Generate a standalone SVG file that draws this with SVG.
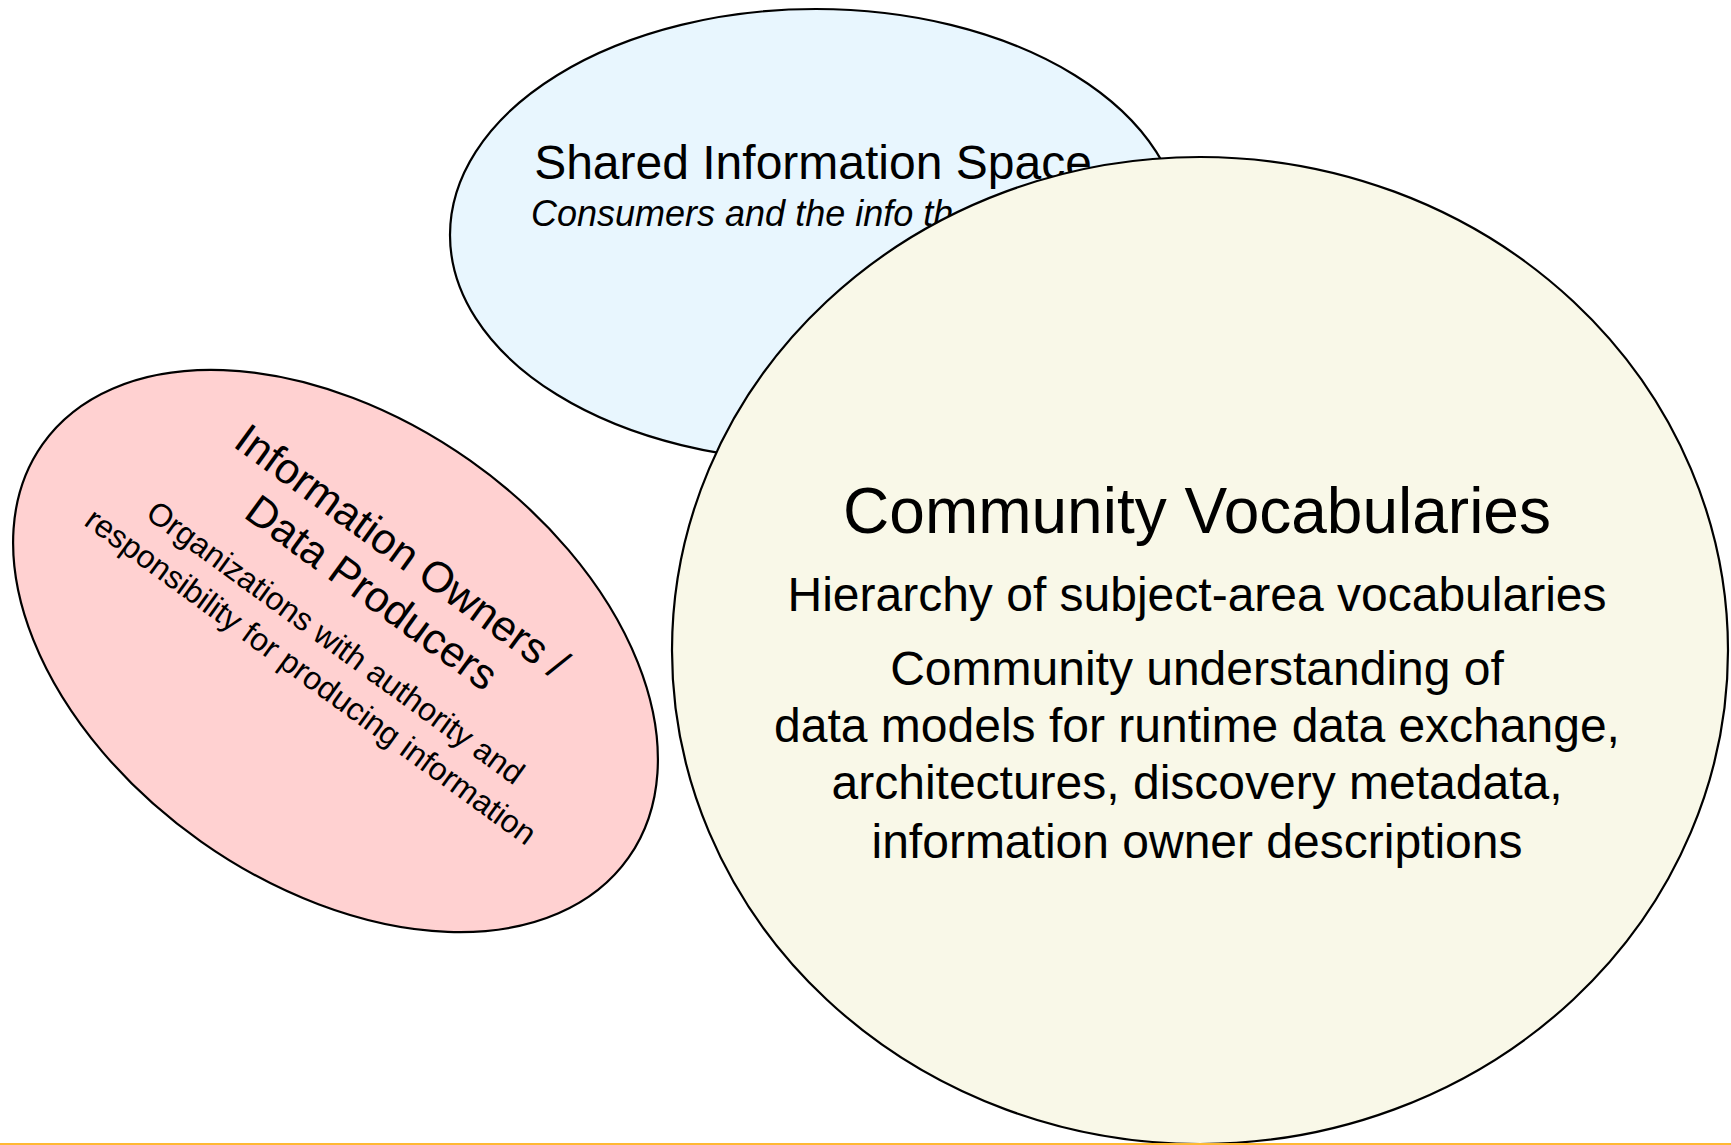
<svg xmlns="http://www.w3.org/2000/svg" width="1731" height="1145" viewBox="0 0 1731 1145">
<style>
.shape{stroke:#000;stroke-width:2.2}
.t{font-family:"Liberation Sans",Arial,sans-serif;fill:#000}
</style>
<rect x="0" y="0" width="1731" height="1145" fill="#fff"/>
<g id="producers">
<ellipse class="shape" cx="335.5" cy="651" rx="358.6" ry="233.2" fill="#ffd1d1" transform="rotate(35.2 335.5 651)"/>
<g transform="translate(335.5 651) rotate(36)">
<text class="t" x="-5" y="-105" font-size="43" text-anchor="middle">Information Owners /</text>
<text class="t" x="-5" y="-54" font-size="43" text-anchor="middle">Data Producers</text>
<text class="t" x="-5" y="4" font-size="32" text-anchor="middle">Organizations with authority and</text>
<text class="t" x="-5" y="46" font-size="32" text-anchor="middle">responsibility for producing information</text>
</g>
</g>
<g id="shared-space">
<ellipse class="shape" cx="816" cy="235" rx="366" ry="226" fill="#e8f6fe"/>
<text class="t" x="813" y="179" font-size="48" text-anchor="middle">Shared Information Space</text>
<text class="t" x="531" y="226" font-size="36" font-style="italic">Consumers and the info th</text>
</g>
<g id="vocabularies">
<ellipse class="shape" cx="1200" cy="650.5" rx="528" ry="493.5" fill="#f9f8e8"/>
<text class="t" x="1197" y="533" font-size="64" text-anchor="middle">Community Vocabularies</text>
<text class="t" x="1197" y="611" font-size="48" text-anchor="middle">Hierarchy of subject-area vocabularies</text>
<text class="t" x="1197" y="685" font-size="48" text-anchor="middle">Community understanding of</text>
<text class="t" x="1197" y="742" font-size="48" text-anchor="middle">data models for runtime data exchange,</text>
<text class="t" x="1197" y="799" font-size="48" text-anchor="middle">architectures, discovery metadata,</text>
<text class="t" x="1197" y="858" font-size="48" text-anchor="middle">information owner descriptions</text>
</g>
<g id="connectors"/>
<line x1="0" y1="1144" x2="1731" y2="1144" stroke="#ffb833" stroke-width="2"/>
</svg>
